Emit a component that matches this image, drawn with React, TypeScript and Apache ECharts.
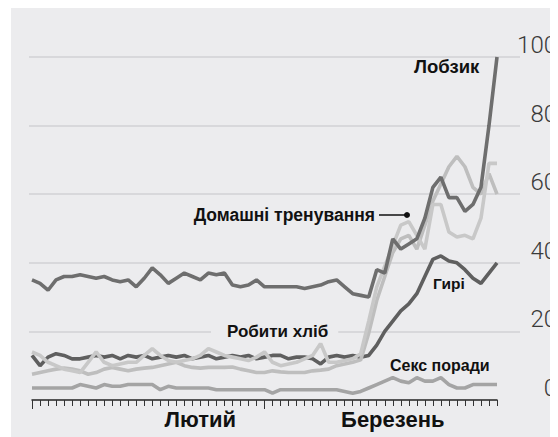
import React, { useEffect, useRef } from "react";
import * as echarts from "echarts";

// Days: 1 Feb 2020 .. 30 Mar 2020
const categories: string[] = [];
for (let d = 1; d <= 29; d++) categories.push(`2020-02-${String(d).padStart(2, "0")}`);
for (let d = 1; d <= 30; d++) categories.push(`2020-03-${String(d).padStart(2, "0")}`);

const monthLabels: Record<number, string> = { 21: "Лютий", 45: "Березень" };
const longTickIdx = [0, 29];

const lobzik = [35, 34, 32, 35, 36, 36, 36.5, 36, 35.5, 36, 35, 34.5, 35, 33, 35.5, 38.5, 36.5, 34, 35.5, 37, 36, 35, 37, 36.5, 37, 33.5, 33, 33.5, 35, 33, 33, 33, 33, 33, 32.5, 33, 33.5, 34.5, 35, 33, 31, 30.5, 30, 38, 37, 47, 44, 45.5, 47, 53, 62, 65, 59, 59, 55, 57, 62, 80, 100];
const giri = [13, 10, 12.5, 13.5, 13, 12, 12, 12.5, 13, 12.5, 13, 12, 13, 12.5, 13, 12, 12.5, 13, 12.5, 13, 12, 12.5, 13, 12, 12.5, 13, 12.5, 13, 12, 12.5, 13, 13, 12, 12.5, 12.5, 12, 10.5, 12.5, 13, 12.5, 13, 12.5, 13, 16, 20, 23, 26, 28, 31, 36, 41, 42, 40.5, 40, 38, 35.5, 34, 37, 40];
const homeWorkout = [14, 13, 11, 10, 9, 8.5, 8, 11, 14, 11, 10, 10.5, 11, 11, 13, 15, 13, 11.5, 11, 11.5, 12, 13, 15, 14, 13, 12.5, 12, 11.5, 12.5, 14, 11, 10, 10.5, 11, 12, 13, 16.5, 11, 11, 11.5, 12, 13.5, 23, 33, 39, 45, 51, 52, 48, 44, 57, 57, 49, 47.5, 48, 47, 53, 69, 69];
const bread = [7.5, 8, 8.5, 9, 9.3, 9, 8.5, 7.5, 8, 9, 9.5, 9, 8.5, 9, 9.3, 9.5, 10, 10.5, 11, 10, 9.5, 9.3, 9.5, 9.5, 9.5, 9.6, 9, 8.5, 8, 8, 8.5, 8.2, 8, 8, 8, 8.5, 8.7, 9, 10, 10.5, 11, 11.7, 19.5, 29, 36, 43, 47, 48, 44, 51, 58, 63, 68, 71, 68, 62, 60, 66, 60];
const sexTips = [3.5, 3.5, 3.5, 3.5, 3.5, 3.5, 4.5, 4, 3.5, 4.5, 4, 4, 4.5, 4.5, 4.5, 4.5, 3, 4, 3.5, 3.5, 3.5, 3.5, 3.5, 3, 3, 3, 3, 3, 3, 3, 2, 3, 3, 3, 3, 3, 3, 3, 3, 2.5, 2, 2.5, 3.5, 4.5, 5.5, 6.5, 5.5, 5, 6.5, 5.5, 5.5, 6.5, 4.5, 3.5, 3.5, 4.5, 4.5, 4.5, 4.5];

const yMin = 0;
const yMax = 100;
const yStep = 20;

const OX = 11;
const OY = 8;
const FONT = "'Liberation Sans', Arial, sans-serif";
const NUM_FONT = "Roboto, 'Helvetica Neue', Arial, sans-serif";
const BG = "#ececee";
const GRID_C = "#d2d2d4";

export default function App() {
  const ref = useRef<HTMLDivElement>(null);
  useEffect(() => {
    if (!ref.current) return;
    const chart = echarts.init(ref.current, undefined, { renderer: "svg" });
    const lbl = (text: string, x: number, y: number, extra: any = {}) => ({
      type: "text",
      x: x - OX,
      y: y - OY,
      z: 100,
      style: {
        text,
        fill: "#111",
        fontFamily: FONT,
        fontWeight: "bold",
        fontSize: 17,
        align: "left",
        verticalAlign: "middle",
        ...extra,
      },
    });
    const mkLine = (data: number[], color: string, z: number) => ({
      type: "line",
      xAxisIndex: 1,
      yAxisIndex: 1,
      data,
      symbol: "none",
      z,
      lineStyle: { width: 3.6, color },
    });
    chart.setOption({
      animation: false,
      backgroundColor: BG,
      grid: [
        { left: 29 - OX, top: 57 - OY, width: 491, height: 343, containLabel: false, outerBoundsMode: "none" },
        { left: 32 - OX, top: 57 - OY, width: 465, height: 343, containLabel: false, outerBoundsMode: "none" },
      ],
      xAxis: [
        { gridIndex: 0, type: "value", min: 0, max: 1, show: false },
        {
          gridIndex: 1,
          type: "category",
          data: categories,
          boundaryGap: false,
          position: "bottom",
          axisLine: { lineStyle: { color: "#222", width: 1.5 } },
          axisTick: { interval: 0, length: 6, lineStyle: { color: "#333", width: 1 } },
          axisLabel: {
            interval: (i: number) => monthLabels[i] !== undefined,
            formatter: (_v: string, i: number) => monthLabels[i] ?? "",
            margin: 8,
            fontSize: 22,
            fontWeight: "bold",
            color: "#111",
            fontFamily: FONT,
          },
          splitLine: { show: false },
        },
        {
          gridIndex: 1,
          type: "category",
          data: categories,
          boundaryGap: false,
          position: "bottom",
          offset: 0,
          axisLine: { show: false },
          axisLabel: { show: false },
          splitLine: { show: false },
          axisTick: {
            interval: (i: number) => longTickIdx.includes(i),
            length: 9,
            lineStyle: { color: "#333", width: 1 },
          },
        },
      ],
      yAxis: [
        {
          gridIndex: 0,
          type: "value",
          min: yMin,
          max: yMax,
          interval: yStep,
          position: "right",
          axisLine: { show: false },
          axisTick: { show: false },
          splitLine: {
            lineStyle: {
              color: ["rgba(0,0,0,0)", GRID_C, GRID_C, GRID_C, GRID_C, GRID_C],
              width: 1.5,
            },
          },
          axisLabel: {
            align: "right",
            verticalAlign: "bottom",
            margin: 37,
            fontSize: 24,
            fontWeight: 300,
            color: "#3a3a3a",
            fontFamily: NUM_FONT,
          },
        },
        { gridIndex: 1, type: "value", min: yMin, max: yMax, show: false },
      ],
      series: [
        mkLine(sexTips, "#a4a4a4", 2),
        mkLine(giri, "#5f5f5f", 3),
        mkLine(bread, "#bebebe", 4),
        mkLine(homeWorkout, "#c8c8c8", 5),
        mkLine(lobzik, "#6e6e6e", 6),
      ],
      graphic: [
        lbl("Лобзик", 414, 66, { fontSize: 18.5 }),
        lbl("Домашні тренування", 375, 215, { align: "right", fontSize: 17.5 }),
        {
          type: "line",
          z: 100,
          shape: { x1: 379 - OX, y1: 215 - OY, x2: 405 - OX, y2: 215 - OY },
          style: { stroke: "#111", lineWidth: 1.5 },
        },
        {
          type: "circle",
          z: 100,
          shape: { cx: 407 - OX, cy: 215 - OY, r: 3 },
          style: { fill: "#111" },
        },
        lbl("Гирі", 433, 283, { fontSize: 15.5 }),
        lbl("Робити хліб", 211, 331, { backgroundColor: BG, padding: [3, 10, 3, 16] }),
        lbl("Секс поради", 390, 365, { fontSize: 16 }),
      ],
    });
    return () => chart.dispose();
  }, []);
  return <div ref={ref} style={{ width: 547, height: 429, marginLeft: 3 }} />;
}
